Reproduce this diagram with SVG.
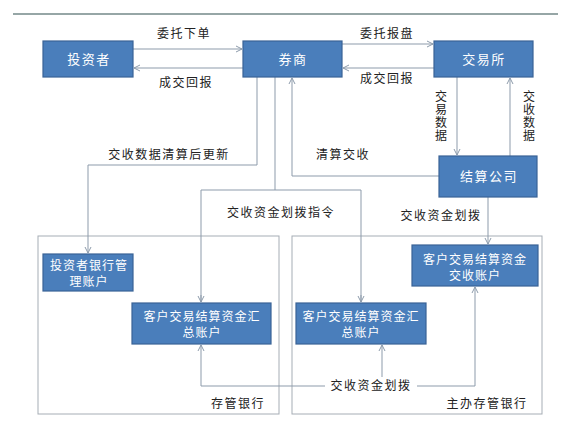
<svg xmlns="http://www.w3.org/2000/svg" width="579" height="431" viewBox="0 0 579 431">
<defs>
<marker id="arr" markerWidth="8" markerHeight="8" refX="7" refY="4" orient="auto" markerUnits="userSpaceOnUse">
<path d="M1,1 L7,4 L1,7" fill="none" stroke="#8d9bab" stroke-width="1"/>
</marker>
<style>
.box{fill:#4a7ebb;stroke:#3a6396;stroke-width:1.2}
.bt{font-family:"Noto Sans CJK SC","Noto Sans",sans-serif;font-size:13px;fill:#ffffff;text-anchor:middle;letter-spacing:1.5px}
.bt2{font-family:"Noto Sans CJK SC","Noto Sans",sans-serif;font-size:12px;fill:#ffffff;text-anchor:middle;letter-spacing:1px}
.lb{font-family:"Noto Sans CJK SC","Noto Sans",sans-serif;font-size:12px;fill:#222;text-anchor:middle;letter-spacing:1.5px}
.vt{font-family:"Noto Sans CJK SC","Noto Sans",sans-serif;font-size:12px;fill:#222;writing-mode:vertical-rl;letter-spacing:1px}
.ln{fill:none;stroke:#8d9bab;stroke-width:1}
.cont{fill:none;stroke:#a6adb5;stroke-width:1}
</style>
</defs>
<rect width="579" height="431" fill="#ffffff"/>
<line x1="13" y1="14" x2="558" y2="14" stroke="#2f4f4f" stroke-width="1.2"/>

<g id="containers">
<rect class="cont" x="38" y="236" width="241" height="178"/>
<rect class="cont" x="292" y="236" width="250" height="178"/>
<text class="lb" x="238" y="408">存管银行</text>
<text class="lb" x="487" y="408">主办存管银行</text>
</g>

<g id="connectors">
<line class="ln" x1="133" y1="49" x2="242" y2="49" marker-end="url(#arr)"/>
<line class="ln" x1="243" y1="68" x2="134" y2="68" marker-end="url(#arr)"/>
<line class="ln" x1="342" y1="44" x2="433" y2="44" marker-end="url(#arr)"/>
<line class="ln" x1="434" y1="68" x2="343" y2="68" marker-end="url(#arr)"/>
<line class="ln" x1="457" y1="77" x2="457" y2="155" marker-end="url(#arr)"/>
<line class="ln" x1="510" y1="156" x2="510" y2="78" marker-end="url(#arr)"/>
<polyline class="ln" points="439,176 292,176 292,78" marker-end="url(#arr)"/>
<polyline class="ln" points="257,77 257,165 88,165 88,253" marker-end="url(#arr)"/>
<line class="ln" x1="275" y1="77" x2="275" y2="190"/>
<polyline class="ln" points="201,302 201,190 361,190 361,302"/>
<line class="ln" x1="201" y1="295" x2="201" y2="302" marker-end="url(#arr)"/>
<line class="ln" x1="361" y1="295" x2="361" y2="302" marker-end="url(#arr)"/>
<line class="ln" x1="488" y1="197" x2="488" y2="244" marker-end="url(#arr)"/>
<polyline class="ln" points="325,386 201,386 201,345" marker-end="url(#arr)"/>
<polyline class="ln" points="417,386 475,386 475,287" marker-end="url(#arr)"/>
<line class="ln" x1="382" y1="377" x2="382" y2="345" marker-end="url(#arr)"/>
</g>

<g id="labels">
<text class="lb" x="184" y="38">委托下单</text>
<text class="lb" x="186" y="87">成交回报</text>
<text class="lb" x="387" y="38">委托报盘</text>
<text class="lb" x="387" y="83">成交回报</text>
<text class="lb" x="343" y="159">清算交收</text>
<text class="lb" x="169" y="159">交收数据清算后更新</text>
<text class="lb" x="281" y="217">交收资金划拨指令</text>
<text class="lb" x="441" y="220">交收资金划拨</text>
<text class="lb" x="371" y="390">交收资金划拨</text>
<text class="vt" x="441" y="90">交易数据</text>
<text class="vt" x="529" y="90">交收数据</text>
</g>

<g id="investor">
<rect class="box" x="43" y="41" width="90" height="36"/>
<text class="bt" x="89" y="64">投资者</text>
</g>
<g id="broker">
<rect class="box" x="243" y="41" width="99" height="36"/>
<text class="bt" x="293" y="64">券商</text>
</g>
<g id="exchange">
<rect class="box" x="434" y="41" width="99" height="36"/>
<text class="bt" x="484" y="64">交易所</text>
</g>
<g id="clearing">
<rect class="box" x="439" y="156" width="98" height="41"/>
<text class="bt" x="489" y="181">结算公司</text>
</g>
<g id="investor-bank">
<rect class="box" x="43" y="254" width="90" height="37"/>
<text class="bt2" x="89" y="270">投资者银行管</text>
<text class="bt2" x="89" y="286">理账户</text>
</g>
<g id="summary-left">
<rect class="box" x="132" y="303" width="139" height="41"/>
<text class="bt2" x="202" y="321">客户交易结算资金汇</text>
<text class="bt2" x="202" y="337">总账户</text>
</g>
<g id="summary-right">
<rect class="box" x="296" y="303" width="130" height="41"/>
<text class="bt2" x="361" y="321">客户交易结算资金汇</text>
<text class="bt2" x="361" y="337">总账户</text>
</g>
<g id="settlement-account">
<rect class="box" x="412" y="245" width="126" height="41"/>
<text class="bt2" x="475" y="264">客户交易结算资金</text>
<text class="bt2" x="475" y="280">交收账户</text>
</g>
</svg>
